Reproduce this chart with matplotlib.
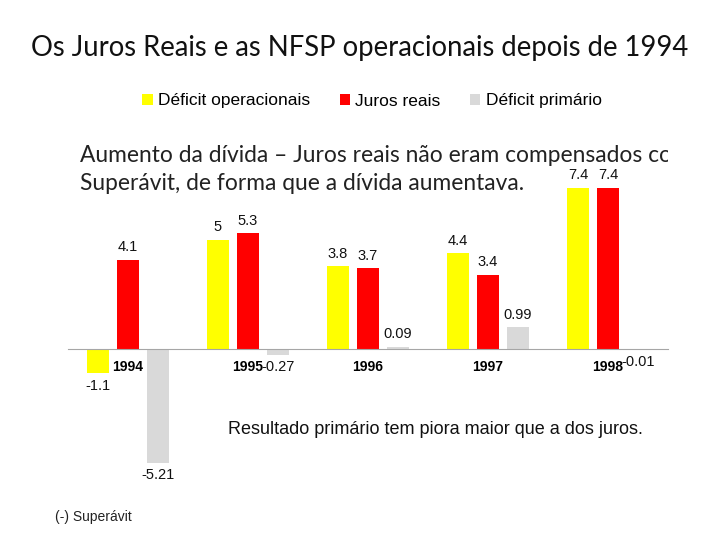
import matplotlib.pyplot as plt
import numpy as np

years = ['1994', '1995', '1996', '1997', '1998']
deficit_oper = [-1.1, 5, 3.8, 4.4, 7.4]
juros_reais = [4.1, 5.3, 3.7, 3.4, 7.4]
deficit_prim = [-5.21, -0.27, 0.09, 0.99, -0.01]
series_names = ['Déficit operacionais', 'Juros reais', 'Déficit primário']

plt.rcParams['font.family'] = ['Liberation Sans', 'DejaVu Sans']

fig = plt.figure(figsize=(7.2, 5.4), dpi=100)
# axes placed in pixel terms of the 720x540 slide
ax = fig.add_axes([68/720, 1 - 490.7/540, 600/720, (490.7 - 131)/540])

x = np.arange(len(years))
off = 0.25
w = 0.19
b1 = ax.bar(x - off, deficit_oper, w, color='#FFFF00', label=series_names[0])
b2 = ax.bar(x, juros_reais, w, color='#FF0000', label=series_names[1])
b3 = ax.bar(x + off, deficit_prim, w, color='#D9D9D9', label=series_names[2])

for b in (b1, b2, b3):
    ax.bar_label(b, fmt='%g', padding=4, fontsize=10.5, color='#111111')

for s in ('top', 'right', 'left'):
    ax.spines[s].set_visible(False)
ax.spines['bottom'].set_position(('data', 0))  # resets ticks, so do it first
ax.spines['bottom'].set_color('#A6A6A6')
ax.patch.set_alpha(0)

ax.set_xlim(-0.5, 4.5)
ax.set_ylim(-6.5, 10)
ax.set_yticks([])
ax.set_xticks(x)
ax.set_xticklabels(years, fontweight='bold', fontsize=10)
ax.tick_params(axis='x', length=0, pad=8, labelcolor='#000000')

# overlay text, clipped by the chart area like in the slide
ax.text(-0.4, (349 - 155)/21.8, 'Aumento da dívida – Juros reais não eram compensados com',
        fontsize=16.4, family='Lato', color='#222222', va='center', ha='left', clip_on=True)
ax.text(-0.4, (349 - 183)/21.8, 'Superávit, de forma que a dívida aumentava.',
        fontsize=16.4, family='Lato', color='#222222', va='center', ha='left', clip_on=True)

fig.text(0.5, 1 - 48/540, 'Os Juros Reais e as NFSP operacionais depois de 1994',
         ha='center', va='center', fontsize=19.8, family='Lato', color='#111111')

fig.legend(loc='center', bbox_to_anchor=(372/720, 1 - 101/540), ncol=3, frameon=False,
           prop={'size': 12.5}, handlelength=0.6, handleheight=0.6,
           handletextpad=0.3, columnspacing=1.7)

fig.text(228/720, 1 - 430/540, 'Resultado primário tem piora maior que a dos juros.',
         ha='left', va='center', fontsize=13, color='#111111')
fig.text(55/720, 1 - 517/540, '(-) Superávit', ha='left', va='center', fontsize=10,
         color='#222222')

fig.savefig('out.png', dpi=100)
